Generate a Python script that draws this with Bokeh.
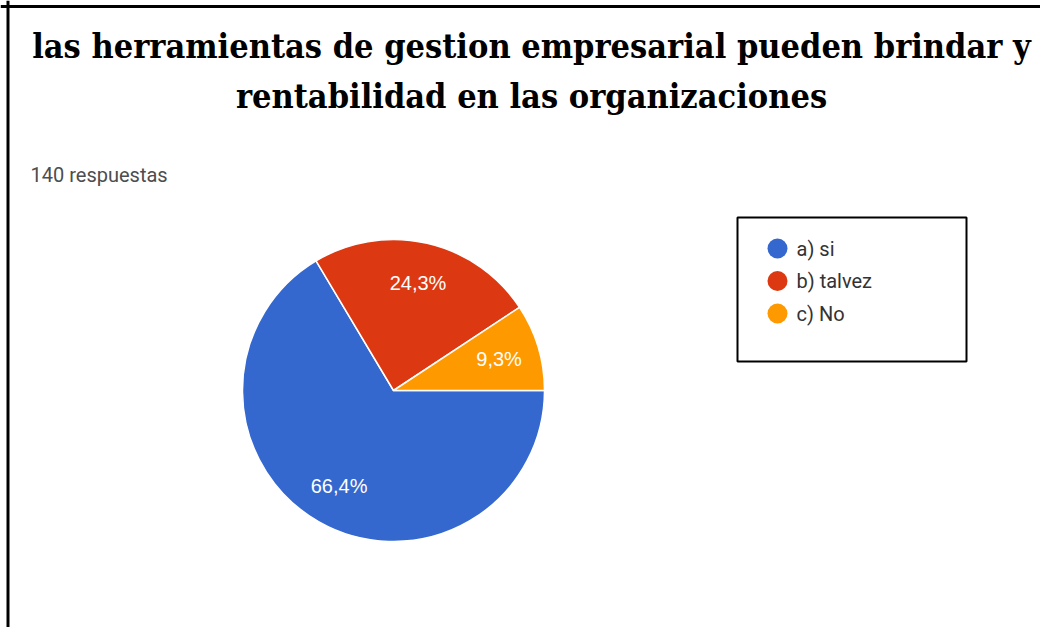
import math
from bokeh.plotting import figure
from bokeh.models import ColumnDataSource, Range1d, Span
from bokeh.core.properties import value
from bokeh.embed import file_html
from bokeh.resources import INLINE

# ---- data ----
categories = ["a) si", "b) talvez", "c) No"]
counts = [93, 34, 13]
total_responses = 140
title_lines = ["las herramientas de gestion empresarial pueden brindar y",
               "rentabilidad en las organizaciones"]
subtitle = "140 respuestas"

palette = ["#3468CE", "#DC3912", "#FF9900"]

W, H = 1040, 627
p = figure(width=W, height=H, output_backend="svg", toolbar_location=None,
           x_range=Range1d(0, W), y_range=Range1d(0, H), min_border=0,
           background_fill_color="white", border_fill_color="white")
p.axis.visible = False
p.grid.visible = False
p.outline_line_color = None

# frame lines of the screenshot
p.add_layout(Span(location=7.5, dimension="height", line_color="black", line_width=3))
p.add_layout(Span(location=H - 6, dimension="width", line_color="black", line_width=3))

# ---- pie ----
cx, cy, R = 393, 237, 151
total = sum(counts)
fracs = [c / total for c in counts]
starts, ends, mids = [], [], []
acc = 0.0
for f in fracs:
    a0 = -2 * math.pi * acc
    a1 = -2 * math.pi * (acc + f)
    starts.append(a0)
    ends.append(a1)
    mids.append((a0 + a1) / 2)
    acc += f

src = ColumnDataSource(dict(start=starts, end=ends, color=palette, cat=categories))
p.wedge(x=cx, y=cy, radius=R, start_angle="start", end_angle="end",
        direction="clock", fill_color="color", line_color="white",
        line_width=1.5, source=src)

labels = [("%.1f" % (f * 100)).replace(".", ",") + "%" for f in fracs]
lr = 0.73 * R
lsrc = ColumnDataSource(dict(x=[cx + lr * math.cos(m) for m in mids],
                             y=[cy + lr * math.sin(m) for m in mids],
                             t=labels))
p.text(x="x", y="y", text="t", source=lsrc, text_color="white",
       text_font=value("Liberation Sans"), text_font_size="20px",
       text_align="center", text_baseline="middle")

# ---- legend box ----
p.quad(left=737, right=966, bottom=266, top=410, fill_color="white",
       line_color="black", line_width=2)
ly = [379 - 32.5 * i for i in range(len(categories))]
gsrc = ColumnDataSource(dict(x=[777] * len(categories), y=ly, color=palette,
                             tx=[796] * len(categories), cat=categories))
p.scatter(x="x", y="y", size=20, marker="circle", fill_color="color",
          line_color=None, source=gsrc)
p.text(x="tx", y="y", text="cat", source=gsrc, text_color="#333333",
       text_font=value("Roboto"), text_font_size="20px",
       text_align="left", text_baseline="middle")

# ---- titles ----
tsrc = ColumnDataSource(dict(x=[531, 531], y=[582, 532], t=title_lines))
p.text(x="x", y="y", text="t", source=tsrc, text_color="black",
       text_font=value("DejaVu Serif Condensed"), text_font_style="bold",
       text_font_size="34px", text_align="center", text_baseline="middle")

ssrc = ColumnDataSource(dict(x=[30], y=[453], t=[subtitle]))
p.text(x="x", y="y", text="t", source=ssrc, text_color="#4d4d4d",
       text_font=value("Roboto"), text_font_size="20px",
       text_align="left", text_baseline="middle")

open("out.html", "w").write(file_html(p, INLINE))
